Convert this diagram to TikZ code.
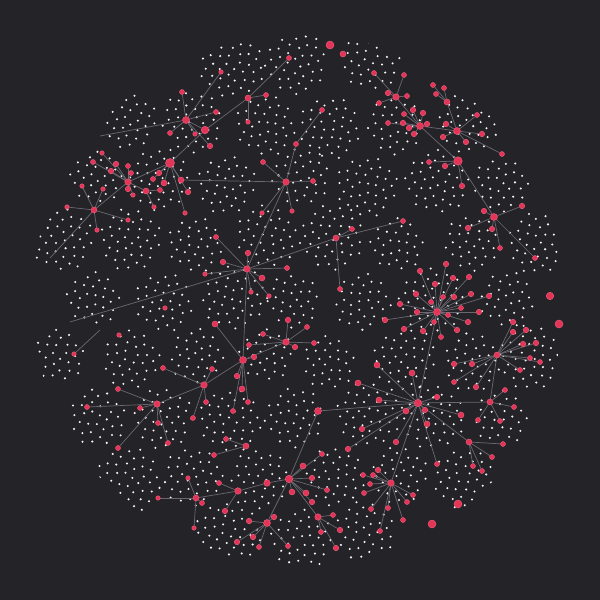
\documentclass[tikz,border=0pt]{standalone}
\definecolor{bgc}{RGB}{36,35,40}
\definecolor{redc}{RGB}{228,52,88}
\definecolor{redl}{RGB}{242,98,128}
\definecolor{edgec}{RGB}{106,105,113}
\definecolor{dotc}{RGB}{246,246,249}
\pgfdeclarelayer{dots}
\pgfdeclarelayer{edges}
\pgfsetlayers{dots,edges,main}
\newcommand\mkhub[4]{\node[rn,minimum size=#4pt] (#1) at (#2,#3) {};}
\newcommand\mkkids[2]{\foreach \xx/\yy/\ss [count=\kk] in {#2}{%
  \node[rn,minimum size=\ss pt] (#1-\kk) at (\xx,\yy) {};%
  \begin{pgfonlayer}{edges}\draw[edge] (#1) -- (#1-\kk);\end{pgfonlayer}}}
\newcommand\lnk[2]{\begin{pgfonlayer}{edges}\draw[edge] (#1) -- (#2);\end{pgfonlayer}}
\begin{document}
\begin{tikzpicture}[x=1pt,y=-1pt,
  rn/.style={circle,fill=redc,draw=redl,line width=0.4pt,inner sep=0pt,minimum size=5pt},
  edge/.style={draw=edgec,line width=0.7pt}]
\useasboundingbox (0,0) rectangle (600,600);
\begin{pgfonlayer}{dots}
\fill[bgc] (0,0) rectangle (600,600);
\begin{scope}
\clip (298,300) circle (266);
\pgfmathsetseed{4242}
\foreach \k in {-4,...,4}{
 \foreach \j in {-5,...,5}{
  \pgfmathsetmacro\cx{298+\j*68+34*mod(abs(\k),2)+rand*5}
  \pgfmathsetmacro\cy{300+\k*59+rand*5}
  \pgfmathtruncatemacro\ok{veclen(\cx-298,\cy-300)<256}
  \pgfmathtruncatemacro\nd{random(28,44)}
  \pgfmathsetmacro\rot{rand*180}
  \ifnum\ok=1
   \foreach \i in {1,...,\nd}{
    \fill[dotc] ({\cx+5.1*sqrt(\i-0.5)*cos(\i*137.508+\rot)},{\cy+5.1*sqrt(\i-0.5)*sin(\i*137.508+\rot)}) circle (1.15);
   }
  \fi
 }}
\end{scope}
\end{pgfonlayer}
% hubs
\mkhub{A}{128}{182}{6.5}
\mkhub{A2}{146}{191}{6}
\mkhub{B}{94}{210}{6}
\mkhub{W}{170}{163}{9}
\mkhub{C}{186}{120}{7}
\mkhub{C2}{205}{130}{7.5}
\mkhub{D}{248}{98}{6}
\mkhub{E}{286}{182}{6.5}
\mkhub{E2}{322}{110}{5}
\mkhub{F}{247}{269}{6.5}
\mkhub{G}{336}{238}{6}
\mkhub{H}{286}{342}{6.5}
\mkhub{I}{243}{360}{7}
\mkhub{J}{204}{385}{6.5}
\mkhub{K}{157}{404}{6.5}
\mkhub{X}{246}{446}{6}
\mkhub{L}{289}{479}{7.5}
\mkhub{LL}{318}{411}{7}
\mkhub{L2}{267}{483}{6.5}
\mkhub{Y}{238}{491}{6.5}
\mkhub{N}{318}{517}{6.5}
\mkhub{O}{196}{498}{6}
\mkhub{M}{267}{523}{7}
\mkhub{P}{391}{483}{6.5}
\mkhub{Z}{469}{442}{6}
\mkhub{U0}{418}{403}{7.5}
\mkhub{Q0}{437}{312}{7}
\mkhub{T}{497}{355}{6}
\mkhub{U}{490}{402}{6}
\mkhub{Q}{420}{126}{7}
\mkhub{Q2}{396}{97}{6.5}
\mkhub{R}{457}{131}{7}
\mkhub{R2}{447}{102}{6}
\mkhub{BN}{458}{161}{8.5}
\mkhub{S}{494}{217}{7}
% isolated
\mkhub{iso1}{330}{45}{8}
\mkhub{iso2}{343}{54}{6}
\mkhub{iso3}{458}{504}{8}
\mkhub{iso4}{432}{524}{8}
\mkhub{iso5}{550}{296}{7.5}
\mkhub{iso6}{559}{324}{8}
\mkhub{iso7}{74}{354}{4.5}
\mkhub{iso8}{119}{335}{4.5}
\mkhub{iso9}{165}{308}{4.5}
\coordinate (fB) at (50,258);
\coordinate (fC) at (100,136);
\coordinate (fF) at (70,322);
\coordinate (f7) at (100,330);
% kids
\mkkids{A}{116/164/5.5,111/171/5.5,131/173/5,128/166/5,93/162/5,102/153/4.5,128/189/5.5,133/195/4.5}
\mkkids{A2}{160/190/5,154/207/4.5}
\mkkids{B}{67/207/4.5,82/186/4.5,103/189/4.5,97/230/4.5,128/220/4.5}
\mkkids{W}{159/173/5.5,153/179/5,164/183/6,181/180/6,188/192/5.5,185/213/4.5}
\mkkids{C}{182/92/5,216/112/5,170/133/5,195/134/4.5,210/146/5.5,221/72/4.5}
\mkkids{D}{266/95/5,248/122/4.5,289/58/5}
\mkkids{E}{296/144/5,263/162/5,313/181/5,292/211/4.5,262/213/4.5}
\mkkids{F}{248/253/5.5,223/262/5.5,216/237/5,205/274/4.5,262/278/6,251/292/4.5,269/296/4.5,287/268/5}
\mkkids{G}{340/289/5,403/221/5,352/229/5}
\mkkids{H}{288/320/5.5,307/327/5,314/343/5,295/347/5.5,263/334/5,249/345/5}
\mkkids{I}{254/357/5.5,237/376/5.5,242/389/6,248/402/5,233/411/5,215/324/6}
\mkkids{J}{212/369/5,163/368/5,206/402/5,193/418/5}
\mkkids{K}{118/389/5,87/407/5,140/408/5,158/423/5,168/443/5,118/448/5}
\mkkids{X}{226/439/5,214/455/5}
\mkkids{L}{303/466/6,322/454/5,312/478/5.5,292/492/6,306/493/6,327/490/5,312/502/5.5}
\mkkids{Y}{225/511/5.5,219/483/5}
\mkkids{N}{333/515/5,340/530/5.5,321/532/5,336/548/5.5}
\mkkids{O}{158/498/4.5,188/478/4.5,202/503/5,194/528/4.5}
\mkkids{M}{249/521/5.5,274/517/5.5,253/537/5.5,237/542/5.5,259/547/5,288/546/5}
\mkkids{P}{378/470/5.5,363/475/5,373/475/5,370/484/5,364/493/5,371/509/5,388/508/5,380/531/5,403/520/5,407/502/5,413/495/5}
\mkkids{Z}{473/466/5,482/471/5,492/457/5,503/444/5}
\mkkids{U0}{358/383/6,377/365/6,412/373/6,379/400/6,437/397/5.5,406/411/6,425/410/5.5,461/415/6,427/424/6,362/429/5.5,396/442/5.5,348/449/5.5,437/464/5}
\mkkids{Q0}{446/264/5.5,420/271/5.5,435/284/5.5,453/278/5.5,469/277/5.5,416/294/5.5,443/297/5,454/297/5.5,471/294/5.5,489/296/5.5,400/304/5.5,431/302/5,461/308/5,479/312/5.5,385/320/5.5,417/312/5.5,448/315/5,468/322/5.5,404/329/5.5,423/331/5.5,434/322/5,457/330/5.5,441/337/5}
\mkkids{T}{513/322/5.5,513/332/5.5,526/330/5.5,523/344/5.5,536/343/5.5,530/358/5,540/362/5,520/370/5,454/364/5.5,472/364/5.5,476/387/5.5,454/382/5}
\mkkids{U}{505/390/5,514/407/5,500/421/5,478/420/5}
\mkkids{Q}{403/123/5.5,388/123/5,409/128/5.5,414/134/5.5,427/124/5.5,423/113/5.5,413/110/5.5,404/114/5}
\mkkids{Q2}{374/73/5,404/75/5,388/93/5.5,379/103/5,407/96/5}
\mkkids{R}{446/124/5.5,443/137/5.5,466/142/5.5,482/134/5.5,477/115/5,502/154/5}
\mkkids{R2}{433/85/5,444/88/5,436/94/5}
\mkkids{BN}{445/166/5.5,429/162/5,462/186/5.5}
\mkkids{S}{484/211/5.5,522/206/5.5,468/228/5.5,492/229/5.5,500/248/5,535/258/5}
% hub links
\lnk{A}{A2}\lnk{A}{B}\lnk{A}{W}\lnk{W}{C2}\lnk{C}{C2}\lnk{C2}{D}
\lnk{E}{F}\lnk{E-1}{E2}\lnk{E}{W-4}\lnk{F}{G}\lnk{F}{I}\lnk{H}{I}\lnk{I}{J}\lnk{J}{K}
\lnk{L}{LL}\lnk{LL}{U0}\lnk{L}{M}\lnk{L}{N}\lnk{L}{L2}\lnk{L2}{Y}\lnk{Y}{O}
\lnk{P}{U0}\lnk{U0}{Q0}\lnk{U0}{U}\lnk{U0}{Z}\lnk{T}{U}
\lnk{Q}{Q2}\lnk{Q}{R}\lnk{R}{R2}\lnk{Q}{BN}\lnk{BN}{S}
\lnk{B}{fB}\lnk{C}{fC}\lnk{F}{fF}\lnk{iso7}{f7}
\end{tikzpicture}
\end{document}
